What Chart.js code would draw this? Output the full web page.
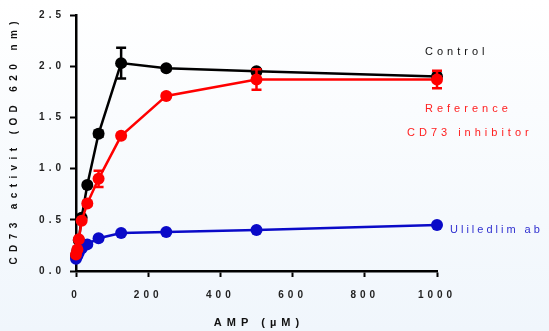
<!DOCTYPE html>
<html>
<head>
<meta charset="utf-8">
<script src="https://cdn.jsdelivr.net/npm/chart.js@4.4.1/dist/chart.umd.min.js"></script>
<style>
  html, body { margin: 0; padding: 0; }
  body { width: 549px; height: 331px; background: linear-gradient(#ffffff, #f0f6fc); overflow: hidden; }
  #wrap { position: relative; width: 549px; height: 331px; }
</style>
</head>
<body>
<div id="wrap"><canvas id="chart" width="549" height="331"></canvas></div>
<script>
// AMP concentrations (uM)
var amp = [0, 3.9, 7.8, 15.6, 31.25, 62.5, 125, 250, 500, 1000];

var controlVals = [0.15, 0.2, 0.3, 0.52, 0.84, 1.34, 2.03, 1.98, 1.95, 1.9];
var controlErr  = [0, 0, 0, 0, 0.02, 0.03, 0.15, 0.02, 0.02, 0.02];

var refVals = [0.16, 0.21, 0.31, 0.49, 0.66, 0.9, 1.32, 1.71, 1.87, 1.87];
var refErr  = [0, 0, 0, 0, 0.02, 0.08, 0.02, 0.02, 0.1, 0.085];

var uliVals = [0.12, 0.15, 0.18, 0.22, 0.26, 0.32, 0.37, 0.38, 0.4, 0.45];
var uliErr  = [0, 0, 0, 0, 0, 0.01, 0.01, 0.01, 0.01, 0.01];

var yTicks = [0, 0.5, 1.0, 1.5, 2.0, 2.5];
var xTicks = [0, 200, 400, 600, 800, 1000];

var xTitle = 'AMP (µM)';
var yTitle = 'CD73 activit (OD 620 nm)';

var seriesLabels = [
  { text: 'Control', color: '#111111', x: 425, y: 52, sp: '4px' },
  { text: 'Reference', color: '#ff2020', x: 425, y: 109, sp: '4px' },
  { text: 'CD73 inhibitor', color: '#ff2020', x: 407, y: 133, sp: '4px' },
  { text: 'Uliledlim ab', color: '#3030d0', x: 450, y: 230, sp: '3px' }
];

function pts(vals) {
  return vals.map(function(v, i){ return { x: amp[i], y: v }; });
}

var spacing = {
  id: 'spacing',
  beforeDraw: function(chart) { chart.ctx.letterSpacing = '4px'; }
};

var errorBars = {
  id: 'errorBars',
  afterDatasetDraw: function(chart, args) {
    var ds = chart.data.datasets[args.index];
    if (!ds.errors) return;
    var ctx = chart.ctx, xs = chart.scales.x, ys = chart.scales.y;
    ctx.save();
    ctx.strokeStyle = ds.borderColor;
    ctx.lineWidth = 2.5;
    ds.data.forEach(function(p, i){
      var e = ds.errors[i];
      if (!e) return;
      var px = xs.getPixelForValue(p.x);
      var top = ys.getPixelForValue(p.y + e);
      var bot = ys.getPixelForValue(p.y - e);
      ctx.beginPath();
      ctx.moveTo(px, top); ctx.lineTo(px, bot);
      ctx.moveTo(px - 5, top); ctx.lineTo(px + 5, top);
      ctx.moveTo(px - 5, bot); ctx.lineTo(px + 5, bot);
      ctx.stroke();
    });
    ctx.restore();
  }
};

var sideLabels = {
  id: 'sideLabels',
  afterDraw: function(chart) {
    var ctx = chart.ctx, area = chart.chartArea;
    ctx.save();
    ctx.textBaseline = 'middle';
    // axis titles
    ctx.fillStyle = '#111';
    ctx.textAlign = 'left';
    ctx.font = 'bold 11px "Liberation Sans", Arial, sans-serif';
    ctx.letterSpacing = '5px';
    var w = ctx.measureText(xTitle).width - 5;
    ctx.fillText(xTitle, (area.left + area.right) / 2 - w / 2, 323);
    ctx.save();
    ctx.font = 'bold 10px "Liberation Sans", Arial, sans-serif';
    ctx.letterSpacing = '5.4px';
    w = ctx.measureText(yTitle).width - 5.4;
    ctx.translate(14, 143);
    ctx.rotate(-Math.PI / 2);
    ctx.fillText(yTitle, -w / 2, 0);
    ctx.restore();
    // series labels
    ctx.font = '11px "Liberation Sans", Arial, sans-serif';
    seriesLabels.forEach(function(l){
      ctx.letterSpacing = l.sp;
      ctx.fillStyle = l.color;
      ctx.fillText(l.text, l.x, l.y);
    });
    ctx.restore();
  }
};

var ctx = document.getElementById('chart').getContext('2d');

function series(label, vals, errs, color) {
  return {
    label: label,
    data: pts(vals),
    errors: errs,
    borderColor: color,
    backgroundColor: color,
    borderWidth: 2.5,
    pointRadius: 6,
    pointHoverRadius: 6,
    pointBorderWidth: 0,
    tension: 0,
    clip: false
  };
}

var tickFont = { family: '"Liberation Sans", Arial', size: 10, weight: 'bold' };

new Chart(ctx, {
  type: 'line',
  data: {
    datasets: [
      series('Reference CD73 inhibitor', refVals, refErr, '#ff0000'),
      series('Uliledlim ab', uliVals, uliErr, '#0a0ac8'),
      series('Control', controlVals, controlErr, '#000000')
    ]
  },
  options: {
    responsive: false,
    animation: false,
    events: [],
    layout: { padding: { left: 6, top: 15, right: 112, bottom: 4 } },
    plugins: { legend: { display: false }, tooltip: { enabled: false } },
    scales: {
      x: {
        type: 'linear',
        min: 0, max: 1000,
        afterBuildTicks: function(s){ s.ticks = xTicks.map(function(v){ return { value: v }; }); },
        afterFit: function(s){ s.height = 56; },
        border: { display: true, color: '#000', width: 2.5 },
        grid: { drawOnChartArea: false, drawTicks: true, tickLength: 6, tickColor: '#000', tickWidth: 2 },
        ticks: { color: '#222', padding: 12, maxRotation: 0, callback: function(v){ return String(v); }, font: tickFont },
        title: { display: false }
      },
      y: {
        min: 0, max: 2.5,
        afterBuildTicks: function(s){ s.ticks = yTicks.map(function(v){ return { value: v }; }); },
        afterFit: function(s){ s.width = 70; },
        border: { display: true, color: '#000', width: 2.5 },
        grid: { drawOnChartArea: false, drawTicks: true, tickLength: 6, tickColor: '#000', tickWidth: 2 },
        ticks: { color: '#222', padding: 5, callback: function(v){ return v.toFixed(1); }, font: tickFont },
        title: { display: false }
      }
    }
  },
  plugins: [spacing, errorBars, sideLabels]
});
</script>
</body>
</html>
